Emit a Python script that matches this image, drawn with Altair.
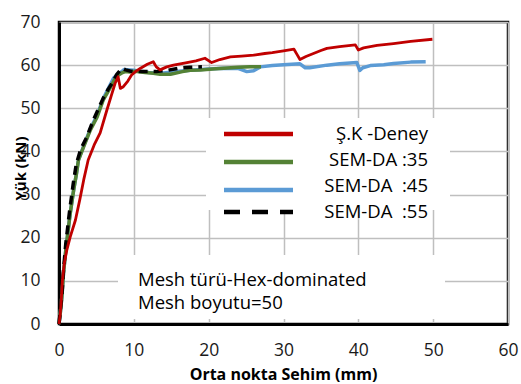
import altair as alt
import pandas as pd

# ---- data ----
red_x = [0, 0.15, 0.3, 0.45, 0.7, 1.05, 1.5, 2.2, 2.8, 3.3, 3.9, 4.7, 5.5, 6.4, 7.0, 7.5, 7.9, 8.2, 8.6, 9.2, 9.7,
         10.3, 10.9, 11.8, 12.6, 13.0, 13.5, 14.4, 15.3, 16.2, 17.1, 18.3, 19.5, 20.4, 21.5, 22.9, 24.4, 26.0, 27.5,
         28.5, 30.0, 31.4, 31.8, 32.2, 33.0, 34.0, 35.0, 35.8, 37.5, 39.6, 40.0, 40.7, 42.5, 44.7, 47.0, 49.9]
red_y = [0, 2, 5.5, 10, 14, 17.2, 20.2, 24.1, 29, 33.4, 38, 41.5, 44.3, 49.6, 53, 55.8, 57.3, 54.6, 55.0, 56.3, 57.7,
         58.6, 59.3, 60.2, 60.8, 59.6, 58.9, 59.6, 60.0, 60.3, 60.6, 61.0, 61.6, 60.6, 61.3, 61.9, 62.1, 62.3, 62.7,
         62.9, 63.3, 63.7, 62.5, 61.3, 62.0, 62.7, 63.4, 63.9, 64.3, 64.7, 63.5, 64.0, 64.6, 65.0, 65.5, 66.0]

green_x = [0, 0.2, 0.39, 0.6, 0.96, 1.5, 2.0, 2.3, 2.6, 3.3, 4.2, 5.1, 5.9, 6.8, 7.5, 8.0, 8.4, 8.85, 9.5, 10.2,
           11.5, 12.6, 13.5, 14.9, 16.5, 17.5, 18.9, 20.5, 22.0, 24.0, 25.5, 27.0]
green_y = [0, 3, 6.4, 11.8, 18, 25.7, 31.5, 34.5, 38, 41.1, 45, 48, 51.9, 54.6, 56.9, 57.8, 58.2, 58.5, 58.4, 58.6,
           58.3, 58.1, 57.9, 57.9, 58.5, 58.8, 58.9, 59.1, 59.3, 59.5, 59.6, 59.6]

blue_x = [0, 0.2, 0.39, 0.6, 0.96, 1.5, 2.0, 2.3, 2.6, 3.3, 4.2, 5.1, 5.9, 6.7, 7.3, 7.8, 8.2, 8.7, 9.5, 10.0,
          12.0, 14.0, 16.0, 18.0, 20.0, 22.0, 24.0, 25.1, 26.0, 26.9, 28.5, 30.0, 32.2, 32.9, 33.5, 35.8, 37.5,
          39.8, 40.2, 40.6, 41.6, 43.4, 44.7, 47.0, 49.0]
blue_y = [0, 3, 6.4, 11.8, 18, 25.7, 31.5, 34.5, 38, 41.3, 45.3, 48.4, 52.2, 55.0, 57.0, 57.8, 58.2, 59.0, 58.9, 58.8,
          58.3, 58.2, 58.6, 58.9, 59.1, 59.3, 59.2, 58.5, 58.7, 59.6, 59.9, 60.1, 60.3, 59.4, 59.4, 60.0, 60.3,
          60.6, 58.8, 59.4, 59.9, 60.1, 60.4, 60.7, 60.8]

black_x = [0, 0.2, 0.4, 0.6, 0.9, 1.4, 1.9, 2.3, 2.9, 3.7, 4.6, 5.3, 5.9, 6.6, 7.1, 7.7, 8.4, 8.9, 9.6, 10.6,
           11.8, 13.0, 14.5, 16.0, 17.5, 19.1]
black_y = [0, 3.5, 7, 12.5, 18.5, 26, 32.5, 37, 40.5, 43.3, 47.3, 50, 52.3, 54.5, 55.8, 57.8, 59.3, 58.9, 58.6, 58.5,
           58.5, 58.5, 58.8, 59.3, 59.5, 59.6]

series_names = ["Ş.K -Deney", "SEM-DA :35", "SEM-DA\u00a0 :45", "SEM-DA\u00a0 :55"]
series_colors = ["#C00000", "#548235", "#5B9BD5", "#000000"]
note_lines = ["Mesh türü-Hex-dominated", "Mesh boyutu=50"]

x_ticks = [0, 10, 20, 30, 40, 50, 60]
y_ticks = [0, 10, 20, 30, 40, 50, 60, 70]

FONT = "Open Sans"
W, H = 449, 302

xs = alt.Scale(domain=[0, 60], nice=False, zero=False)
ys = alt.Scale(domain=[0, 70], nice=False, zero=False)


def line(xv, yv, color, width, dash=None):
    df = pd.DataFrame({"x": xv, "y": yv, "i": range(len(xv))})
    kw = dict(color=color, strokeWidth=width, strokeJoin="round", strokeCap="butt")
    if dash:
        kw["strokeDash"] = dash
    return alt.Chart(df).mark_line(**kw).encode(
        x=alt.X("x:Q", scale=xs,
                axis=alt.Axis(values=x_ticks, title="Orta nokta Sehim (mm)")),
        y=alt.Y("y:Q", scale=ys,
                axis=alt.Axis(values=y_ticks, title="Yük (kN)")),
        order="i:Q",
    )


one = pd.DataFrame({"k": [0]})

# white boxes behind legend and note (they hide the grid, as in the reference)
boxes = alt.Chart(pd.DataFrame({"x": [147, 59], "x2": [391, 386], "y": [96, 233], "y2": [188, 297]})).mark_rect(
    color="white").encode(
    x=alt.X("x:Q", scale=None), x2="x2:Q", y=alt.Y("y:Q", scale=None), y2="y2:Q")

layers = [boxes,
          line(blue_x, blue_y, series_colors[2], 3.5),
          line(green_x, green_y, series_colors[1], 3.5),
          line(black_x, black_y, series_colors[3], 3.5, [9, 6]),
          line(red_x, red_y, series_colors[0], 2.8)]

# legend
leg_line_y = [112, 140, 168, 190]
leg_text_y = [112, 138, 164, 190]
for i, (name, col) in enumerate(zip(series_names, series_colors)):
    kw = dict(color=col, strokeWidth=4.5)
    if i == 3:
        kw["strokeDash"] = [16, 12]
    layers.append(alt.Chart(one).mark_rule(**kw).encode(
        x=alt.value(165), x2=alt.value(234), y=alt.value(leg_line_y[i])))
    layers.append(alt.Chart(one).mark_text(
        align="right", baseline="middle", font=FONT, fontSize=18.5, color="#000000").encode(
        x=alt.value(369), y=alt.value(leg_text_y[i]), text=alt.value(name)))

# note text
for j, t in enumerate(note_lines):
    layers.append(alt.Chart(one).mark_text(
        align="left", baseline="middle", font=FONT, fontSize=18.5, color="#000000").encode(
        x=alt.value(79), y=alt.value(258 + 23 * j), text=alt.value(t)))

chart = alt.layer(*layers).properties(
    width=W, height=H,
    autosize=alt.AutoSizeParams(type="none"),
    padding={"left": 59, "top": 22, "right": 13, "bottom": 60},
).configure(font=FONT).configure_view(
    stroke="#000000", strokeWidth=2.5
).configure_axis(
    grid=True, gridColor="#BFBFBF", gridWidth=1.5,
    ticks=False, tickSize=0, labelFlush=False,
    domain=True, domainColor="#000000", domainWidth=3,
    labelFont=FONT, labelFontSize=17.5, labelColor="#1a1a1a",
    labelPadding=19,
    titleFont=FONT, titleFontWeight="bold", titleColor="#000000",
).configure_axisX(
    titleFontSize=16, titleX=224, titleY=50, titleBaseline="middle", titleAlign="center",
    labelPadding=17,
).configure_axisY(
    titleFontSize=15, titleX=-39, titleY=146, titleAngle=270, titleBaseline="middle", titleAlign="center",
    labelPadding=19,
)

chart.save("out.html", embed_options={"renderer": "svg", "actions": False})
